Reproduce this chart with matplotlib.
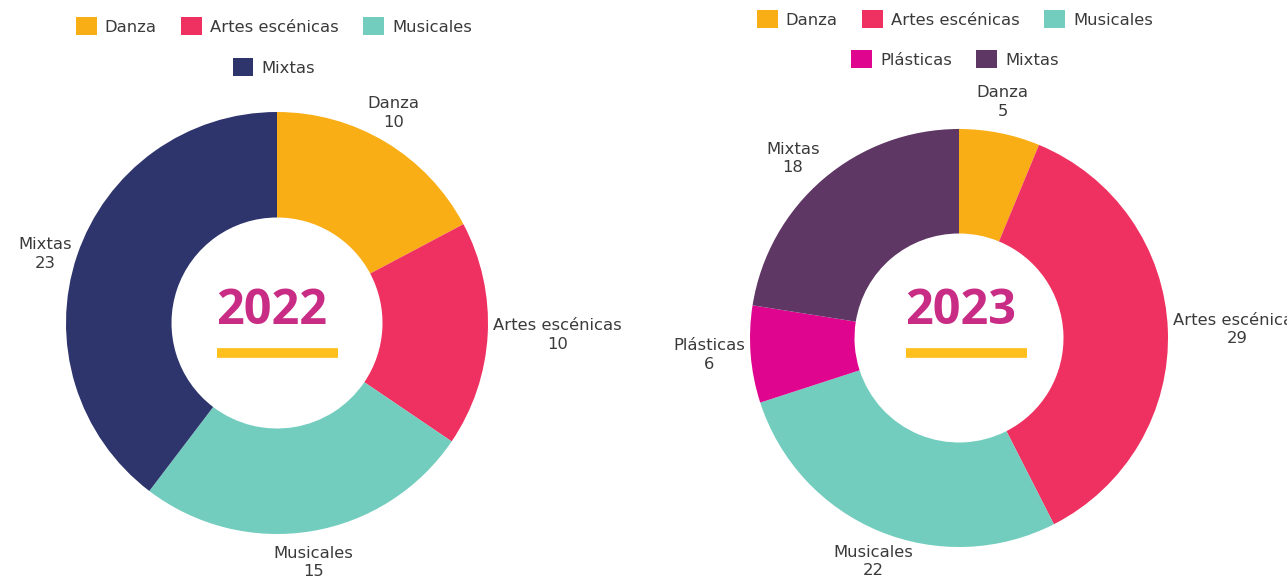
import numpy as np
import matplotlib
matplotlib.use("Agg")
import matplotlib.pyplot as plt

plt.rcParams['font.family'] = ['DejaVu Sans']

# Datos
cats_2022 = ["Danza", "Artes escénicas", "Musicales", "Mixtas"]
vals_2022 = [10, 10, 15, 23]
cols_2022 = ["#F9AE16", "#EE3160", "#72CDBE", "#2E346C"]

cats_2023 = ["Danza", "Artes escénicas", "Musicales", "Plásticas", "Mixtas"]
vals_2023 = [5, 29, 22, 6, 18]
cols_2023 = ["#F9AE16", "#EE3160", "#72CDBE", "#E0058F", "#5E3764"]

TXT = "#3a3a3a"
W, H = 1287, 581
FS = 11.8

fig = plt.figure(figsize=(W / 100, H / 100), dpi=100)


def donut(cx, cy, r, cats, vals, cols, year, year_x, leg_rows):
    # ejes: 1 unidad = r pixeles, centrados en (cx, cy) desde arriba-izquierda
    half = 1.5 * r
    ax = fig.add_axes([(cx - half) / W, (H - cy - half) / H, 2 * half / W, 2 * half / H])
    wedges, _ = ax.pie(vals, colors=cols, startangle=90, counterclock=False,
                       wedgeprops=dict(width=0.5, edgecolor="white", linewidth=0))
    ax.set_xlim(-1.5, 1.5)
    ax.set_ylim(-1.5, 1.5)
    ax.set_aspect("equal")
    ax.axis("off")

    # etiquetas exteriores
    for w, c, v in zip(wedges, cats, vals):
        ang = np.deg2rad((w.theta1 + w.theta2) / 2)
        x, y = np.cos(ang), np.sin(ang)
        if abs(x) < 0.6:
            ha = "center"
            d = 1.07
        else:
            ha = "left" if x > 0 else "right"
            d = 1.025
        if y > 0.5:
            va = "bottom"
        elif y < -0.5:
            va = "top"
        else:
            va = "center"
        ax.text(d * x, d * y, f"{c}\n{v}", ha=ha, va=va, fontsize=FS,
                color=TXT, linespacing=1.3, multialignment="center", clip_on=False)

    # año en el centro (misma altura en las dos gráficas)
    fig.text(year_x / W, 1 - 311 / H, year, ha="center", va="center",
             fontsize=35, fontweight="bold", color="#C92C85", family="Open Sans")
    fig.add_artist(plt.Line2D([(year_x - 55) / W, (year_x + 66) / W],
                              [1 - 352.5 / H, 1 - 352.5 / H],
                              color="#FFC01E", lw=7, solid_capstyle="butt"))

    # leyenda en dos filas centradas
    n1 = 3
    for (ycen, sl) in [(leg_rows[0], slice(0, n1)), (leg_rows[1], slice(n1, None))]:
        fig.legend(wedges[sl], cats[sl], loc="center",
                   bbox_to_anchor=(leg_rows[2] / W, 1 - ycen / H),
                   ncol=3, frameon=False, fontsize=FS,
                   handlelength=1.25, handleheight=1.25,
                   handletextpad=0.5, columnspacing=1.5,
                   labelcolor=TXT)
    return ax


donut(277, 323, 211, cats_2022, vals_2022, cols_2022, "2022", 272, (26, 67, 274))
donut(959, 338, 209, cats_2023, vals_2023, cols_2023, "2023", 961, (19, 59, 955))

fig.savefig("out.png", dpi=100, facecolor="white")
